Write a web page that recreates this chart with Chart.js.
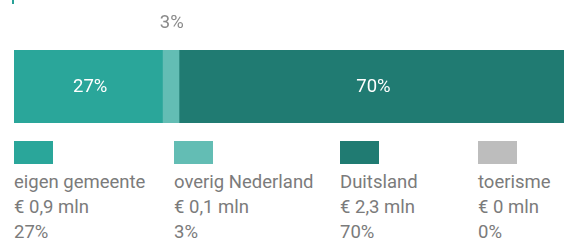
<!DOCTYPE html>
<html>
<head>
<meta charset="utf-8">
<script src="https://cdn.jsdelivr.net/npm/chart.js@4"></script>
<style>
  html, body { margin: 0; padding: 0; background: #fff; }
  body { width: 564px; height: 240px; position: relative; overflow: hidden; font-family: Roboto, sans-serif; }
  #wrap { position: absolute; left: 0; top: 0; width: 564px; height: 130px; }
  #mark { position: absolute; left: 12px; top: 0; width: 2px; height: 4px; background: #2aa198; }
  .item { position: absolute; top: 141px; color: #7b7b7b; font-size: 18.5px; line-height: 25px; white-space: nowrap; }
  .sw { width: 39px; height: 23px; margin-bottom: 6px; }
</style>
</head>
<body>
<div id="mark"></div>
<div id="wrap"><canvas id="c" width="564" height="130"></canvas></div>
<div id="legend"></div>
<script>
const categories = ["eigen gemeente", "overig Nederland", "Duitsland", "toerisme"];
const percentages = [27, 3, 70, 0];
const amounts = ["€ 0,9 mln", "€ 0,1 mln", "€ 2,3 mln", "€ 0 mln"];
const colors = ["#2aa69a", "#63bdb4", "#207b72", "#bdbdbd"];
const legendX = [14, 174, 340, 478];

const labelPlugin = {
  id: 'segLabels',
  afterDatasetsDraw(chart) {
    const ctx = chart.ctx;
    ctx.save();
    ctx.font = '18.5px Roboto, sans-serif';
    ctx.textAlign = 'center';
    ctx.textBaseline = 'middle';
    chart.data.datasets.forEach((ds, i) => {
      const v = ds.data[0];
      if (!v) return;
      const el = chart.getDatasetMeta(i).data[0];
      const cx = (el.x + el.base) / 2;
      if (v >= 10) {
        ctx.fillStyle = '#ffffff';
        ctx.fillText(v + '%', cx + 2, el.y + 1);
      } else {
        ctx.fillStyle = '#8a8a8a';
        ctx.fillText(v + '%', cx + 1, 23);
      }
    });
    ctx.restore();
  }
};

new Chart(document.getElementById('c'), {
  type: 'bar',
  data: {
    labels: [''],
    datasets: categories.map((c, i) => ({
      label: c,
      data: [percentages[i]],
      backgroundColor: colors[i],
      borderWidth: 0,
      barPercentage: 1,
      categoryPercentage: 1
    }))
  },
  options: {
    indexAxis: 'y',
    responsive: false,
    animation: false,
    layout: { padding: { left: 14, right: 0, top: 50, bottom: 7 } },
    plugins: { legend: { display: false }, tooltip: { enabled: false } },
    scales: {
      x: { stacked: true, min: 0, max: 100, display: false },
      y: { stacked: true, display: false }
    }
  },
  plugins: [labelPlugin]
});

const legend = document.getElementById('legend');
categories.forEach((c, i) => {
  const d = document.createElement('div');
  d.className = 'item';
  d.style.left = legendX[i] + 'px';
  d.innerHTML = '<div class="sw" style="background:' + colors[i] + '"></div>' +
    '<div>' + c + '</div><div>' + amounts[i] + '</div><div>' + percentages[i] + '%</div>';
  legend.appendChild(d);
});
</script>
</body>
</html>
